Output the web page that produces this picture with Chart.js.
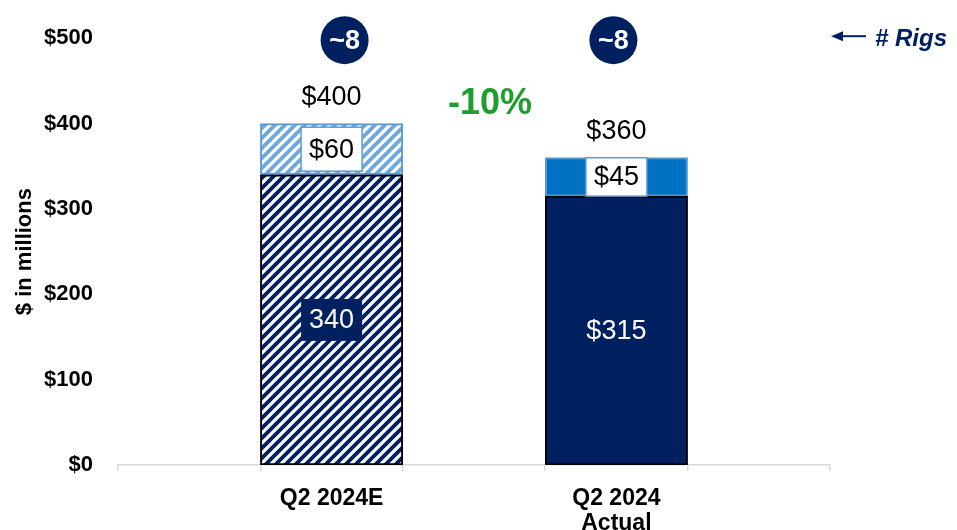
<!DOCTYPE html>
<html>
<head>
<meta charset="utf-8">
<script src="https://cdn.jsdelivr.net/npm/chart.js@4.4.1/dist/chart.umd.min.js"></script>
<style>
  html, body { margin: 0; padding: 0; background: #ffffff; }
  #wrap { width: 957px; height: 530px; position: relative; }
</style>
</head>
<body>
<div id="wrap"><canvas id="c" width="957" height="530"></canvas></div>
<script>
// Quarterly spend, $ in millions
const periods = ['Q2 2024E', 'Q2 2024\nActual'];
const baseSpend = [340, 315];
const addedSpend = [60, 45];
const baseLabelPrefix = ['', '$'];
const rigCounts = ['~8', '~8'];
const yTicks = [0, 100, 200, 300, 400, 500];

const NAVY = '#002060';
const BLUE = '#0070C0';
const LIGHT = '#6FA8DC';
const LIGHT_EDGE = '#5B9BD5';
const GREEN = '#1E9E2A';
const FONT = "'Liberation Sans', Arial, sans-serif";

// Each period sits in its own slot with an empty slot on either side
const slotLabels = ['', periods[0].split('\n'), '', periods[1].split('\n'), ''];
const slotOf = [1, 3];
function toSlots(arr) {
  const out = [null, null, null, null, null];
  arr.forEach((v, i) => { out[slotOf[i]] = v; });
  return out;
}

function stripes(color) {
  const s = 10;
  const c = document.createElement('canvas');
  c.width = s; c.height = s;
  const g = c.getContext('2d');
  g.fillStyle = '#ffffff';
  g.fillRect(0, 0, s, s);
  g.strokeStyle = color;
  g.lineWidth = 3.8;
  g.lineCap = 'square';
  g.beginPath();
  g.moveTo(-2, s + 2); g.lineTo(s + 2, -2);
  g.moveTo(-2, 2); g.lineTo(2, -2);
  g.moveTo(s - 2, s + 2); g.lineTo(s + 2, s - 2);
  g.stroke();
  return g.createPattern(c, 'repeat');
}
const navyStripes = stripes(NAVY);
const lightStripes = stripes(LIGHT);

const annotations = {
  id: 'annotations',
  afterDatasetsDraw(chart) {
    const ctx = chart.ctx;
    const y = chart.scales.y;
    const baseMeta = chart.getDatasetMeta(0);
    const topMeta = chart.getDatasetMeta(1);
    ctx.save();
    ctx.textAlign = 'center';
    ctx.textBaseline = 'middle';

    const totals = baseSpend.map((v, i) => v + addedSpend[i]);
    periods.forEach((p, i) => {
      const slot = slotOf[i];
      const bBar = baseMeta.data[slot];
      const tBar = topMeta.data[slot];
      const cx = bBar.x;

      // total above the bar
      ctx.font = '27px ' + FONT;
      ctx.fillStyle = '#000000';
      ctx.fillText('$' + totals[i], cx, y.getPixelForValue(totals[i]) - 26);

      // added segment label in a white box
      const tTop = tBar.y, tBot = tBar.base;
      const tMid = (tTop + tBot) / 2;
      const tTxt = '$' + addedSpend[i];
      ctx.font = '27px ' + FONT;
      const tw = ctx.measureText(tTxt).width + 16;
      const th = Math.min(44, tBot - tTop);
      ctx.fillStyle = '#ffffff';
      ctx.fillRect(cx - tw / 2, tMid - th / 2, tw, th);
      ctx.strokeStyle = LIGHT_EDGE;
      ctx.lineWidth = 1.5;
      ctx.strokeRect(cx - tw / 2, tMid - th / 2, tw, th);
      ctx.fillStyle = '#000000';
      ctx.fillText(tTxt, cx, tMid + 1);

      // base segment label
      const bMid = (bBar.y + bBar.base) / 2;
      const bTxt = baseLabelPrefix[i] + baseSpend[i];
      if (i === 0) {
        const bw = ctx.measureText(bTxt).width + 16;
        ctx.fillStyle = NAVY;
        ctx.fillRect(cx - bw / 2, bMid - 21, bw, 42);
        ctx.fillStyle = '#ffffff';
        ctx.fillText(bTxt, cx, bMid + 1);
      } else {
        ctx.fillStyle = '#ffffff';
        ctx.fillText(bTxt, cx, bMid + 1);
      }
    });

    // rig count badges along the top
    const badgeShift = [13, -3];
    periods.forEach((p, i) => {
      const cx = baseMeta.data[slotOf[i]].x + badgeShift[i];
      const cy = y.getPixelForValue(500) + 2;
      ctx.beginPath();
      ctx.arc(cx, cy, 24, 0, Math.PI * 2);
      ctx.fillStyle = NAVY;
      ctx.fill();
      ctx.fillStyle = '#ffffff';
      ctx.font = 'bold 27px ' + FONT;
      ctx.fillText(rigCounts[i], cx, cy + 1);
    });

    // change between the two totals
    const change = Math.round((totals[1] - totals[0]) / totals[0] * 100);
    const midX = (baseMeta.data[slotOf[0]].x + baseMeta.data[slotOf[1]].x) / 2 + 16;
    ctx.font = 'bold 36px ' + FONT;
    ctx.fillStyle = GREEN;
    ctx.fillText((change > 0 ? '+' : '') + change + '%', midX, y.getPixelForValue(423));

    // "# Rigs" key with arrow
    const ky = y.getPixelForValue(500) - 2;
    ctx.strokeStyle = NAVY;
    ctx.fillStyle = NAVY;
    ctx.lineWidth = 2;
    ctx.beginPath();
    ctx.moveTo(840, ky); ctx.lineTo(866, ky);
    ctx.stroke();
    ctx.beginPath();
    ctx.moveTo(831, ky); ctx.lineTo(843, ky - 5); ctx.lineTo(843, ky + 5); ctx.closePath();
    ctx.fill();
    ctx.textAlign = 'left';
    ctx.font = 'italic bold 24px ' + FONT;
    ctx.fillText('# Rigs', 875, ky + 3);

    ctx.restore();
  }
};

new Chart(document.getElementById('c'), {
  type: 'bar',
  data: {
    labels: slotLabels,
    datasets: [
      {
        label: 'Base',
        data: toSlots(baseSpend),
        backgroundColor: [null, navyStripes, null, NAVY, null],
        borderColor: '#000000',
        borderWidth: 2,
        borderSkipped: false,
        barPercentage: 1,
        categoryPercentage: 1
      },
      {
        label: 'Added',
        data: toSlots(addedSpend),
        backgroundColor: [null, lightStripes, null, BLUE, null],
        borderColor: LIGHT_EDGE,
        borderWidth: 2,
        borderSkipped: false,
        barPercentage: 1,
        categoryPercentage: 1
      }
    ]
  },
  options: {
    responsive: false,
    animation: false,
    devicePixelRatio: 1,
    layout: { padding: { top: 38, right: 127, left: 0, bottom: 0 } },
    plugins: { legend: { display: false }, tooltip: { enabled: false } },
    scales: {
      x: {
        stacked: true,
        border: { display: true, color: '#D9D9D9', width: 1.5 },
        grid: {
          display: true, drawOnChartArea: false, drawTicks: true,
          tickLength: 6, color: '#D9D9D9', lineWidth: 1.5, offset: true
        },
        ticks: {
          color: '#000000', padding: 16, maxRotation: 0, autoSkip: false,
          font: { family: FONT, size: 23, weight: 'bold', lineHeight: 1.05 }
        },
        afterFit(s) { s.height = 65; }
      },
      y: {
        stacked: true,
        min: 0, max: 500,
        afterBuildTicks(s) { s.ticks = yTicks.map(v => ({ value: v })); },
        border: { display: false },
        grid: { display: false, drawTicks: false },
        ticks: {
          color: '#000000', padding: 25,
          font: { family: FONT, size: 22, weight: 'bold' },
          callback: v => '$' + v
        },
        title: {
          display: true, text: '$ in millions', color: '#000000',
          font: { family: FONT, size: 22, weight: 'bold' },
          padding: { top: 12, bottom: 0 }
        },
        afterFit(s) { s.width = 118; }
      }
    }
  },
  plugins: [annotations]
});
</script>
</body>
</html>
